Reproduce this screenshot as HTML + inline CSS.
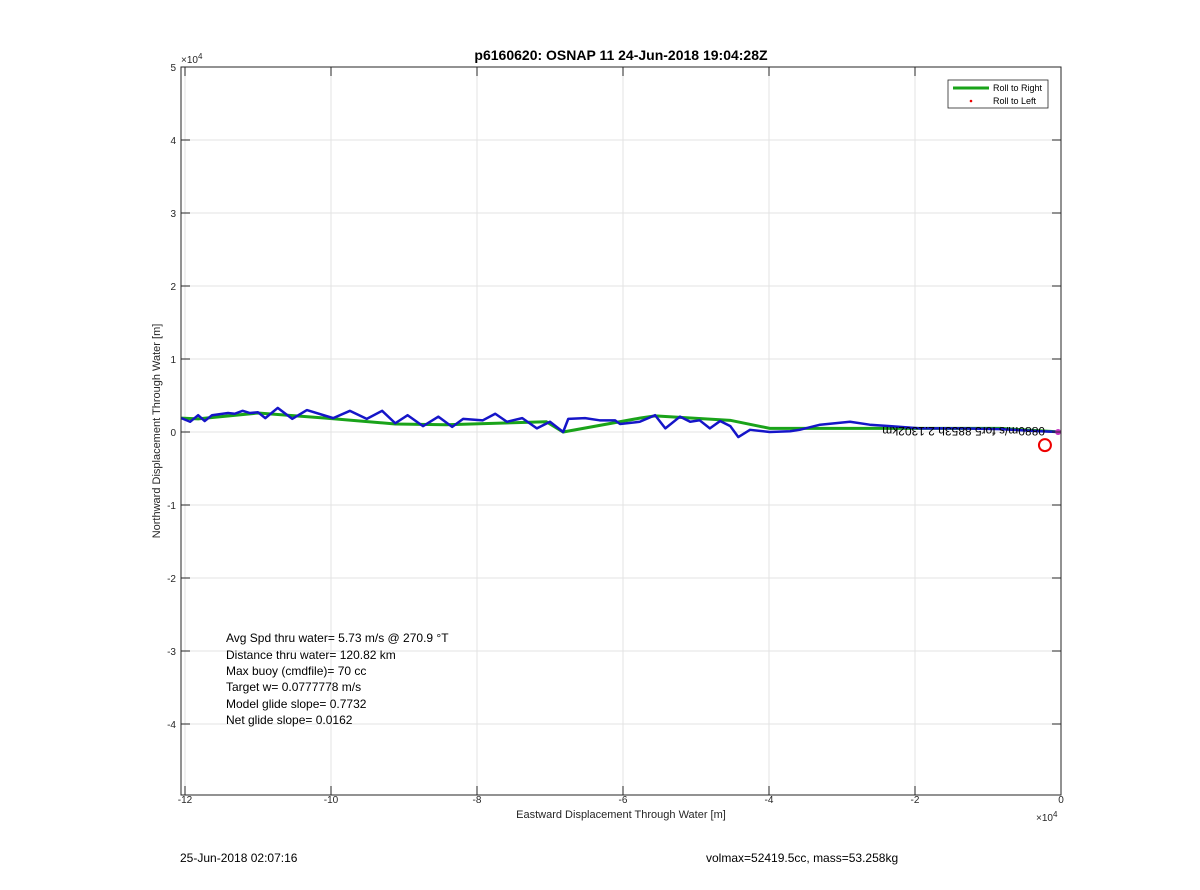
<!DOCTYPE html>
<html><head><meta charset="utf-8"><style>
body{margin:0;background:#fff;font-family:"Liberation Sans",sans-serif}
svg text{font-family:"Liberation Sans",sans-serif}
</style></head><body>
<svg id="chart" width="1200" height="885" xmlns="http://www.w3.org/2000/svg">
<rect width="1200" height="885" fill="#fff"/>
<g id="grid"></g>
<g id="series"></g>
<rect x="181" y="67" width="880" height="728" fill="none" stroke="#262626" stroke-width="1"/>
<g id="ticks"></g>
<text x="621" y="60" text-anchor="middle" font-size="14" font-weight="bold" fill="#000">p6160620: OSNAP 11 24-Jun-2018 19:04:28Z</text>
<text x="621" y="818" text-anchor="middle" font-size="11" fill="#262626">Eastward Displacement Through Water [m]</text>
<text transform="translate(160,431) rotate(-90)" text-anchor="middle" font-size="11" fill="#262626">Northward Displacement Through Water [m]</text>
<text x="181" y="63" font-size="10" fill="#262626">×10<tspan dy="-4" font-size="8">4</tspan></text>
<text x="1036" y="821" font-size="10" fill="#262626">×10<tspan dy="-4" font-size="8">4</tspan></text>
<g>
<rect x="948" y="80" width="100" height="28" fill="#fff" stroke="#262626" stroke-width="0.8"/>
<line x1="953" y1="88" x2="989" y2="88" stroke="#1aa31a" stroke-width="3"/>
<text x="993" y="91" font-size="9" fill="#000">Roll to Right</text>
<circle cx="971" cy="101" r="1.3" fill="#e00"/>
<text x="993" y="104" font-size="9" fill="#000">Roll to Left</text>
</g>
<g font-size="12" fill="#000">
<text x="226" y="642">Avg Spd thru water=  5.73 m/s @ 270.9 °T</text>
<text x="226" y="659">Distance thru water= 120.82 km</text>
<text x="226" y="675">Max buoy (cmdfile)= 70 cc</text>
<text x="226" y="691">Target w= 0.0777778 m/s</text>
<text x="226" y="708">Model glide slope= 0.7732</text>
<text x="226" y="724">Net glide slope= 0.0162</text>
</g>
<text transform="translate(1045,427) rotate(180)" font-size="12" fill="#000">0880m/s for5 8853h  2.1302km</text>
<text x="180" y="862" font-size="12" fill="#000">25-Jun-2018 02:07:16</text>
<text x="706" y="862" font-size="12" fill="#000">volmax=52419.5cc, mass=53.258kg</text>
</svg>
<script>
const xTicks=[-12,-10,-8,-6,-4,-2,0];
const yTicks=[-4,-3,-2,-1,0,1,2,3,4,5];
const blueX=[-12.05,-11.93,-11.82,-11.73,-11.63,-11.41,-11.32,-11.21,-11.11,-11.0,-10.90,-10.73,-10.53,-10.33,-9.97,-9.74,-9.51,-9.30,-9.12,-8.95,-8.74,-8.53,-8.34,-8.19,-7.92,-7.75,-7.59,-7.38,-7.18,-7.0,-6.82,-6.75,-6.52,-6.32,-6.11,-6.04,-5.77,-5.56,-5.42,-5.22,-5.08,-4.95,-4.81,-4.67,-4.53,-4.42,-4.26,-3.99,-3.71,-3.58,-3.30,-2.89,-2.62,-2.34,-1.93,-1.38,-0.84,-0.29,0];
const blueY=[0.19,0.14,0.23,0.15,0.23,0.26,0.25,0.29,0.26,0.27,0.19,0.33,0.18,0.30,0.19,0.29,0.18,0.29,0.12,0.23,0.08,0.21,0.07,0.18,0.16,0.25,0.14,0.19,0.05,0.14,0,0.18,0.19,0.16,0.16,0.11,0.14,0.23,0.05,0.21,0.14,0.16,0.05,0.15,0.08,-0.07,0.03,0,0.01,0.03,0.10,0.14,0.10,0.08,0.05,0.05,0.04,0.01,0];
const greenX=[-12.05,-11.82,-11.0,-10.07,-9.12,-8.42,-7.05,-6.82,-5.77,-5.56,-4.53,-3.99,-2.75,-0.84,0];
const greenY=[0.19,0.18,0.26,0.19,0.11,0.10,0.14,0,0.19,0.22,0.16,0.05,0.05,0.05,0];
const redCircle=[-0.22,-0.18];
const X=v=>1061+v*73, Y=v=>432-v*73;
const NS="http://www.w3.org/2000/svg";
function mk(t,a,p){const e=document.createElementNS(NS,t);for(const k in a)e.setAttribute(k,a[k]);p.appendChild(e);return e;}
const grid=document.getElementById('grid'),ticks=document.getElementById('ticks'),ser=document.getElementById('series');
xTicks.forEach(v=>{
 const g=mk('line',{x1:X(v),x2:X(v),y1:67,y2:795,stroke:'#e3e3e3','stroke-width':1},grid);
 
 
 mk('line',{x1:X(v),x2:X(v),y1:795,y2:786,stroke:'#262626'},ticks);
 mk('line',{x1:X(v),x2:X(v),y1:67,y2:76,stroke:'#262626'},ticks);
 const t=mk('text',{x:X(v),y:803,'text-anchor':'middle','font-size':10,fill:'#262626'},ticks);
 t.textContent=v;
 
 
});
yTicks.forEach(v=>{
 const g=mk('line',{x1:181,x2:1061,y1:Y(v),y2:Y(v),stroke:'#e3e3e3','stroke-width':1},grid);
 
 
 mk('line',{x1:181,x2:190,y1:Y(v),y2:Y(v),stroke:'#262626'},ticks);
 mk('line',{x1:1061,x2:1052,y1:Y(v),y2:Y(v),stroke:'#262626'},ticks);
 const t=mk('text',{x:176,y:Y(v)+4,'text-anchor':'end','font-size':10,fill:'#262626'},ticks);
 t.textContent=v;
 
 
});
const gp=mk('polyline',{points:greenX.map((v,i)=>X(v)+','+Y(greenY[i])).join(' '),fill:'none',stroke:'#1aa31a','stroke-width':3},ser);


const bp=mk('polyline',{points:blueX.map((v,i)=>X(v)+','+Y(blueY[i])).join(' '),fill:'none',stroke:'#1515c8','stroke-width':2.5,'stroke-linejoin':'round'},ser);


const rc=mk('circle',{cx:X(redCircle[0]),cy:Y(redCircle[1]),r:6,fill:'none',stroke:'#e00','stroke-width':2},ser);


const md=mk('circle',{cx:X(-0.04),cy:Y(0),r:3,fill:'#c030c0'},ser);


</script>
</body></html>
